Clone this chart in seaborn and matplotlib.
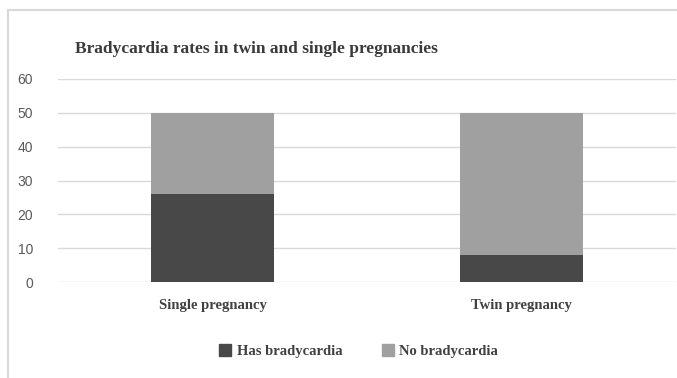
import matplotlib
matplotlib.use("Agg")
import matplotlib.pyplot as plt
import seaborn as sns
import pandas as pd
from matplotlib.patches import Rectangle
from matplotlib.lines import Line2D

categories = ["Single pregnancy", "Twin pregnancy"]
has_bradycardia = [26, 8]
no_bradycardia = [24, 42]
series_names = ["Has bradycardia", "No bradycardia"]
y_ticks = [0, 10, 20, 30, 40, 50, 60]

dark = "#484848"
light = "#a0a0a0"

sns.set_theme(style="white")
plt.rcParams["font.family"] = ["Liberation Sans", "DejaVu Sans"]

fig = plt.figure(figsize=(6.77, 3.78), dpi=100)
ax = fig.add_axes([58 / 677, 1 - 282 / 378, 618 / 677, (282 - 79) / 378])

df = pd.DataFrame({
    "category": categories,
    "has": has_bradycardia,
    "no": no_bradycardia,
})
df["total"] = df["has"] + df["no"]

# stacked bars: full height in light grey, bradycardia share in dark grey on top
sns.barplot(data=df, x="category", y="total", color=light, width=0.4,
            saturation=1, linewidth=0, ax=ax, zorder=3)
sns.barplot(data=df, x="category", y="has", color=dark, width=0.4,
            saturation=1, linewidth=0, ax=ax, zorder=4)

ax.set_ylim(0, 60)
ax.set_xlim(-0.5, 1.5)
ax.set_yticks(y_ticks)
ax.set_yticklabels([str(t) for t in y_ticks], color="#595959", fontsize=10)
ax.yaxis.grid(True, color="#d9d9d9", linewidth=1, zorder=0)
ax.set_axisbelow(True)
for s in ax.spines.values():
    s.set_visible(False)
ax.tick_params(axis="y", length=0, pad=18)
ax.tick_params(axis="x", length=0, pad=12)
ax.set_xlabel("")
ax.set_ylabel("")
for lbl in ax.get_xticklabels():
    lbl.set_fontfamily("Liberation Serif")
    lbl.set_fontweight("bold")
    lbl.set_fontsize(10.5)
    lbl.set_color("#404040")

fig.text(256 / 677, 1 - 49 / 378, "Bradycardia rates in twin and single pregnancies",
         ha="center", va="center", fontsize=12.5, fontweight="bold",
         family="Liberation Serif", color="#3a3a3a")

handles = [Line2D([0], [0], marker="s", linestyle="", markersize=9,
                  markerfacecolor=c, markeredgecolor=c)
           for c in (dark, light)]
leg = fig.legend(handles, series_names, loc="center",
                 bbox_to_anchor=(358 / 677, 1 - 351 / 378), ncol=2, frameon=False,
                 prop={"family": "Liberation Serif", "weight": "bold", "size": 10.5},
                 handletextpad=0.3, columnspacing=2.6, handlelength=1.0)
for t in leg.get_texts():
    t.set_color("#404040")

# outer chart frame
fig.patches.append(Rectangle((8 / 677, -0.05), 1.0, 1 - 10 / 378 + 0.05,
                             transform=fig.transFigure, fill=False,
                             edgecolor="#d9d9d9", linewidth=1.5))

fig.savefig("out.png", dpi=100)
